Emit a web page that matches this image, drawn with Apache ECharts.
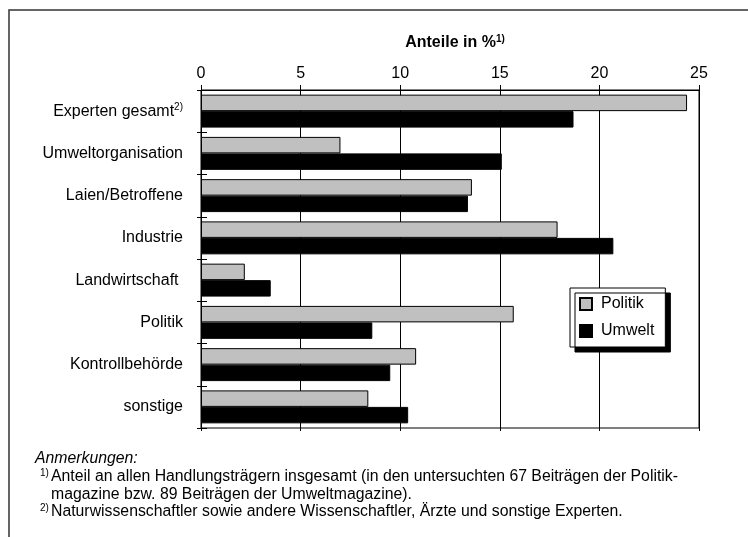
<!DOCTYPE html>
<html>
<head>
<meta charset="utf-8">
<script src="https://cdn.jsdelivr.net/npm/echarts@6/dist/echarts.min.js"></script>
<style>
  html, body { margin: 0; padding: 0; background: #fff; }
  #chart { width: 748px; height: 537px; }
</style>
</head>
<body>
<div id="chart"></div>
<script>
// data
var categories = ['Experten gesamt', 'Umweltorganisation', 'Laien/Betroffene', 'Industrie',
    'Landwirtschaft ', 'Politik', 'Kontrollbehörde', 'sonstige'];
var categoryNotes = ['2)', '', '', '', '', '', '', ''];
var politik = [24.4, 7.0, 13.6, 17.9, 2.2, 15.7, 10.8, 8.4];
var umwelt = [18.7, 15.1, 13.4, 20.7, 3.5, 8.6, 9.5, 10.4];
var seriesNames = ['Politik', 'Umwelt'];
var axisTitle = 'Anteile in %';
var axisTitleNote = '1)';
var notesHeading = 'Anmerkungen:';
var noteMarks = ['1)', '', '2)'];
var noteLines = [
    'Anteil an allen Handlungsträgern insgesamt (in den untersuchten 67 Beiträgen der Politik-',
    'magazine bzw. 89 Beiträgen der Umweltmagazine).',
    'Naturwissenschaftler sowie andere Wissenschaftler, Ärzte und sonstige Experten.'
];

var FONT = '"Liberation Sans", Arial, sans-serif';

document.addEventListener('DOMContentLoaded', function () {
    var myChart = echarts.init(document.getElementById('chart'));

    // outer frame + footnotes
    var footGraphics = [
        {
            type: 'rect', silent: true,
            shape: { x: 9, y: 10, width: 800, height: 600 },
            style: { fill: 'none', stroke: '#333', lineWidth: 1.5 }
        },
        {
            type: 'text', x: 35, y: 459,
            style: { text: notesHeading, fontSize: 15.8, fontStyle: 'italic', fontFamily: FONT, fill: '#000', verticalAlign: 'middle' }
        }
    ];
    for (var i = 0; i < noteLines.length; i++) {
        var ly = 477 + i * 17.5;
        if (noteMarks[i]) {
            footGraphics.push({
                type: 'text', x: 40, y: ly - 4,
                style: { text: noteMarks[i], fontSize: 10, fontFamily: FONT, fill: '#000', verticalAlign: 'middle' }
            });
        }
        footGraphics.push({
            type: 'text', x: 51, y: ly,
            style: { text: noteLines[i], fontSize: 15.8, fontFamily: FONT, fill: '#000', verticalAlign: 'middle' }
        });
    }

    var option = {
        animation: false,
        backgroundColor: '#fff',
        textStyle: { fontFamily: FONT, color: '#000' },
        title: {
            text: '{m|' + axisTitle + '}{s|' + axisTitleNote + '}',
            left: 450, top: 29, textAlign: 'center',
            textStyle: {
                rich: {
                    m: { fontSize: 16, fontWeight: 'bold', fontFamily: FONT, color: '#000', lineHeight: 18 },
                    s: { fontSize: 10, fontWeight: 'bold', fontFamily: FONT, color: '#000', verticalAlign: 'top', lineHeight: 18, padding: [0, 0, 6, 0] }
                }
            }
        },
        legend: {
            data: seriesNames,
            orient: 'vertical',
            left: 570, top: 288,
            itemWidth: 12, itemHeight: 12, itemGap: 11,
            icon: 'rect',
            padding: [8, 11, 8, 9],
            backgroundColor: '#fff',
            borderColor: '#000', borderWidth: 1, borderRadius: 0,
            shadowColor: '#000', shadowBlur: 0, shadowOffsetX: 5, shadowOffsetY: 5,
            textStyle: { fontSize: 16, color: '#000', fontFamily: FONT, padding: [0, 0, 0, 4] }
        },
        grid: {
            left: 201, top: 90, right: 49, bottom: 109,
            show: true, borderColor: '#000', borderWidth: 1, backgroundColor: 'transparent'
        },
        xAxis: [
            {
                type: 'value', position: 'top', min: 0, max: 25, interval: 5,
                axisLine: { show: true, lineStyle: { color: '#000', width: 1 } },
                axisTick: { show: true, length: 5, lineStyle: { color: '#000' } },
                axisLabel: { fontSize: 16, color: '#000', fontFamily: FONT, margin: 8 },
                splitLine: { show: true, lineStyle: { color: '#000', width: 1 } }
            },
            {
                type: 'value', position: 'top', min: 0, max: 25, interval: 5,
                axisLine: { show: false },
                axisTick: { show: true, inside: true, length: 5, lineStyle: { color: '#000' } },
                axisLabel: { show: false },
                splitLine: { show: false }
            },
            {
                type: 'value', position: 'bottom', min: 0, max: 25, interval: 5,
                axisLine: { show: false },
                axisTick: { show: true, length: 3, lineStyle: { color: '#000' } },
                axisLabel: { show: false },
                splitLine: { show: false }
            }
        ],
        yAxis: [
            {
                type: 'category', data: categories, inverse: true, position: 'left',
                axisLine: { show: true, lineStyle: { color: '#000', width: 1 } },
                axisTick: { show: true, length: 4, lineStyle: { color: '#000' } },
                axisLabel: {
                    fontSize: 16, color: '#000', fontFamily: FONT, margin: 18,
                    formatter: function (v, idx) {
                        var note = categoryNotes[idx];
                        return note ? '{n|' + v + '}{s|' + note + '}' : '{n|' + v + '}';
                    },
                    rich: {
                        n: { fontSize: 16, color: '#000', fontFamily: FONT, lineHeight: 18 },
                        s: { fontSize: 10, color: '#000', fontFamily: FONT, verticalAlign: 'top', lineHeight: 18, padding: [0, 0, 6, 0] }
                    }
                },
                splitLine: { show: false }
            },
            {
                type: 'category', data: categories, inverse: true, position: 'left',
                axisLine: { show: false },
                axisTick: { show: true, inside: true, length: 6, lineStyle: { color: '#000' } },
                axisLabel: { show: false },
                splitLine: { show: false }
            }
        ],
        series: [
            {
                name: seriesNames[0], type: 'bar', data: politik,
                xAxisIndex: 0, yAxisIndex: 0,
                barGap: '0%', barCategoryGap: '22%',
                itemStyle: { color: '#c0c0c0', borderColor: '#000', borderWidth: 1 }
            },
            {
                name: seriesNames[1], type: 'bar', data: umwelt,
                xAxisIndex: 0, yAxisIndex: 0,
                barGap: '0%', barCategoryGap: '22%',
                itemStyle: { color: '#000', borderColor: '#000', borderWidth: 1 }
            }
        ],
        graphic: footGraphics
    };

    myChart.setOption(option);
});
</script>
</body>
</html>
